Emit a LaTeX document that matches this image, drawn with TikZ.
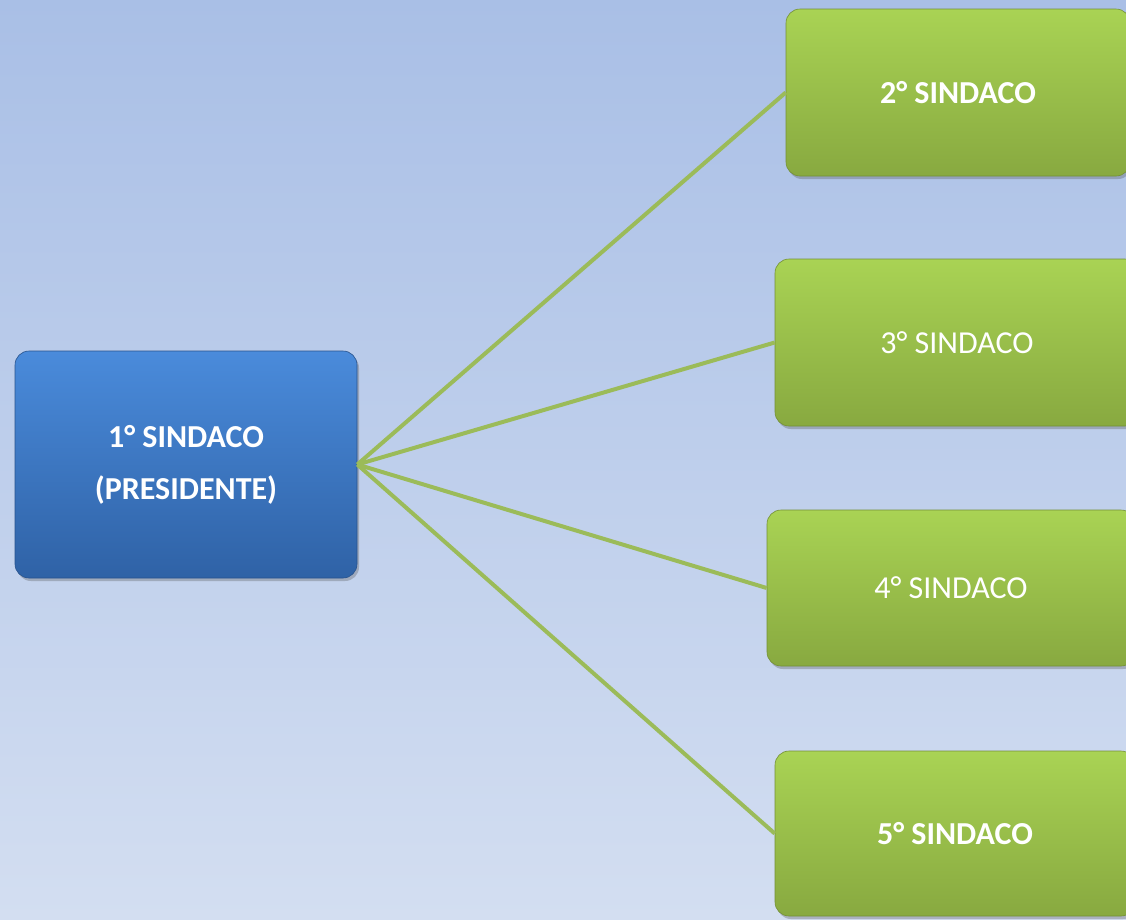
\documentclass[tikz,border=0pt]{standalone}
\usepackage{fontspec}
\setmainfont{Carlito}
\usetikzlibrary{shadows}
\definecolor{bgtop}{HTML}{A9BFE6}
\definecolor{bgbot}{HTML}{D3DEF1}
\definecolor{bluetop}{HTML}{4A8BDB}
\definecolor{bluebot}{HTML}{2F62A6}
\definecolor{greentop}{HTML}{A9D354}
\definecolor{greenbot}{HTML}{88A940}
\definecolor{linkcol}{HTML}{9BBB59}
\tikzset{
  basebox/.style={rounded corners=14pt, inner sep=0pt, align=center, text=white,
    font=\fontsize{32}{52}\selectfont,
    drop shadow={shadow xshift=2pt, shadow yshift=-3pt, opacity=0.3, fill=black!70}},
  bluebox/.style={basebox, top color=bluetop, bottom color=bluebot, draw=bluebot!85!black, line width=0.6pt},
  greenbox/.style={basebox, top color=greentop, bottom color=greenbot, draw=greenbot!85!black, line width=0.6pt},
  link/.style={draw=linkcol, line width=4pt}
}
\begin{document}
\begin{tikzpicture}[x=1pt,y=-1pt]
\useasboundingbox (0,0) rectangle (1126,919);
\clip (0,0) rectangle (1126,919);
\shade[top color=bgtop, bottom color=bgbot] (0,0) rectangle (1126,919);
\node[bluebox, minimum width=342pt, minimum height=227pt] (p) at (186,464.5) {\bfseries 1° SINDACO\\\bfseries (PRESIDENTE)};
\node[greenbox, minimum width=344pt, minimum height=167pt] (s2) at (958,92.5) {\bfseries 2° SINDACO};
\node[greenbox, minimum width=364pt, minimum height=167pt] (s3) at (957,342.5) {3° SINDACO};
\node[greenbox, minimum width=368pt, minimum height=156pt] (s4) at (951,588) {4° SINDACO};
\node[greenbox, minimum width=360pt, minimum height=165pt] (s5) at (955,833.5) {\bfseries 5° SINDACO};
\draw[link] (p.east) -- (s2.west);
\draw[link] (p.east) -- (s3.west);
\draw[link] (p.east) -- (s4.west);
\draw[link] (p.east) -- (s5.west);
\end{tikzpicture}
\end{document}
